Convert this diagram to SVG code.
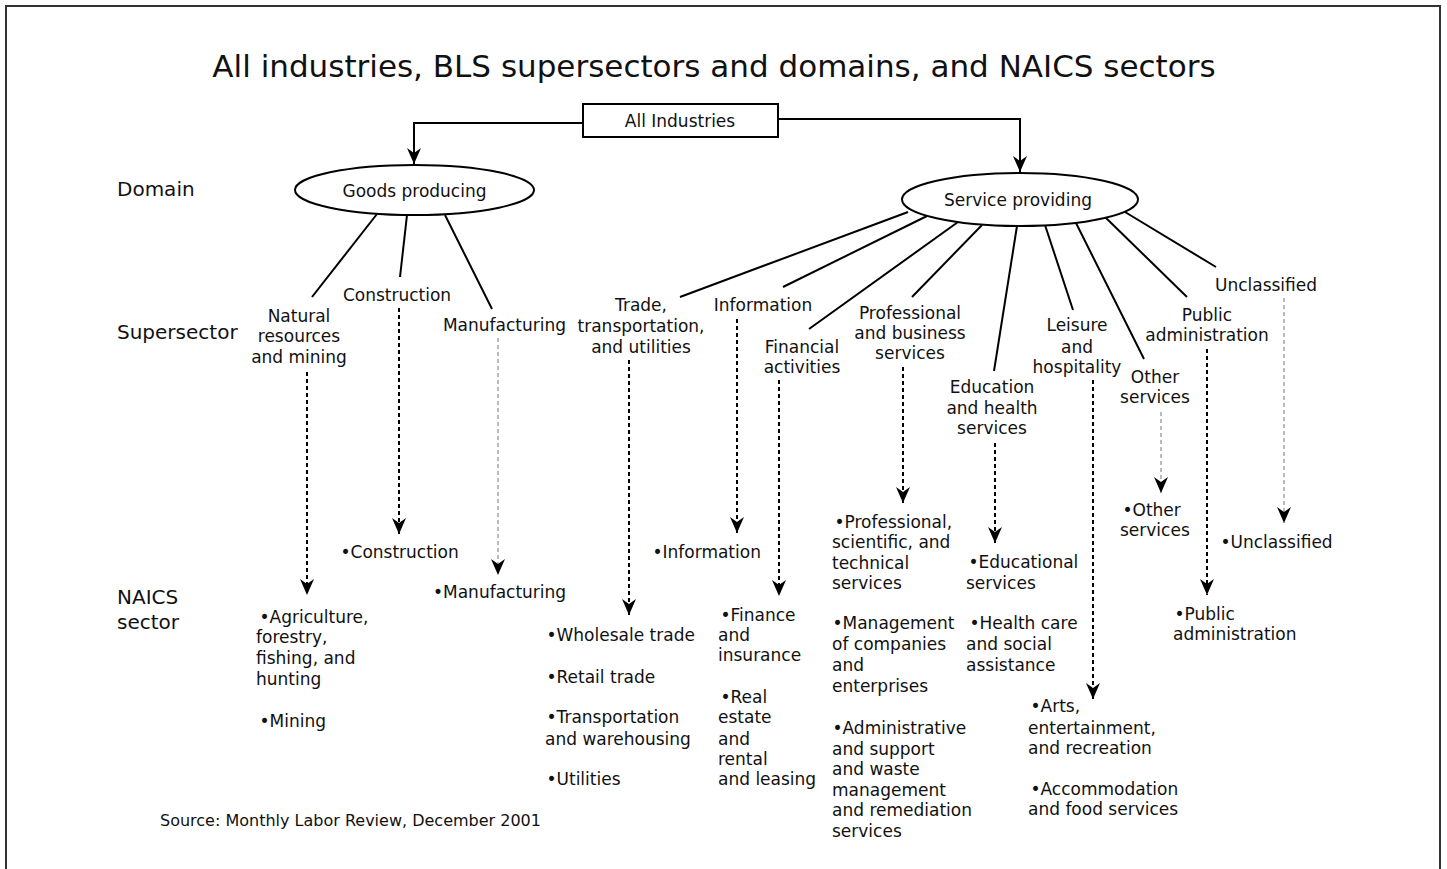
<svg xmlns="http://www.w3.org/2000/svg" width="1447" height="869" viewBox="0 0 1447 869">
<defs>
<marker id="ah" viewBox="0 -8 16 16" refX="16" refY="0" markerWidth="16" markerHeight="16" markerUnits="userSpaceOnUse" orient="auto">
<path d="M0,-7 L16,0 L0,7 L5,0 Z" fill="#000"/>
</marker>
<style>
text{font-family:"DejaVu Sans",Verdana,sans-serif;font-size:17px;fill:#111}
.title{font-size:31px;text-anchor:middle}
.row{font-size:20px}
.c{text-anchor:middle}
.src{font-size:16px}
.solid{stroke:#000;stroke-width:2;fill:none}
.link{stroke:#000;stroke-width:2;fill:none}
.dash{stroke:#000;stroke-width:2;stroke-dasharray:4,3;fill:none}
.light{stroke:#777;stroke-width:1;stroke-dasharray:4,3;fill:none}
.shape{fill:#fff;stroke:#000;stroke-width:2}
</style>
</defs>
<rect width="1447" height="869" fill="#fff"/>
<path d="M6,869 V6 H1440 V869" fill="none" stroke="#333" stroke-width="2"/>
<text class="title" x="714" y="77">All industries, BLS supersectors and domains, and NAICS sectors</text>

<g id="row-labels">
<text class="row" x="117" y="196">Domain</text>
<text class="row" x="117" y="339">Supersector</text>
<text class="row" x="117" y="604">NAICS</text>
<text class="row" x="117" y="629">sector</text>
</g>

<g id="connectors">
<path class="solid" d="M583,123 H414 V164" marker-end="url(#ah)"/>
<path class="solid" d="M778,119 H1020 V172" marker-end="url(#ah)"/>
<line class="link" x1="377" y1="214" x2="312" y2="297"/>
<line class="link" x1="407" y1="215" x2="400" y2="277"/>
<line class="link" x1="445" y1="215" x2="492" y2="309"/>
<line class="link" x1="908" y1="212" x2="680" y2="297"/>
<line class="link" x1="927" y1="216" x2="783" y2="287"/>
<line class="link" x1="958" y1="222" x2="809" y2="329"/>
<line class="link" x1="982" y1="225" x2="912" y2="297"/>
<line class="link" x1="1017" y1="226" x2="994" y2="371"/>
<line class="link" x1="1045" y1="225" x2="1073" y2="310"/>
<line class="link" x1="1076" y1="223" x2="1144" y2="359"/>
<line class="link" x1="1105" y1="217" x2="1187" y2="297"/>
<line class="link" x1="1125" y1="212" x2="1216" y2="267"/>
<line class="dash" x1="307" y1="372" x2="307" y2="595" marker-end="url(#ah)"/>
<line class="dash" x1="399" y1="308" x2="399" y2="534" marker-end="url(#ah)"/>
<line class="light" x1="498" y1="338" x2="498" y2="575" marker-end="url(#ah)"/>
<line class="dash" x1="629" y1="360" x2="629" y2="615" marker-end="url(#ah)"/>
<line class="dash" x1="737" y1="319" x2="737" y2="533" marker-end="url(#ah)"/>
<line class="dash" x1="779" y1="380" x2="779" y2="596" marker-end="url(#ah)"/>
<line class="dash" x1="903" y1="367" x2="903" y2="503" marker-end="url(#ah)"/>
<line class="dash" x1="995" y1="443" x2="995" y2="543" marker-end="url(#ah)"/>
<line class="dash" x1="1093" y1="380" x2="1093" y2="699" marker-end="url(#ah)"/>
<line class="light" x1="1161" y1="412" x2="1161" y2="493" marker-end="url(#ah)"/>
<line class="dash" x1="1207" y1="349" x2="1207" y2="595" marker-end="url(#ah)"/>
<line class="light" x1="1284" y1="298" x2="1284" y2="523" marker-end="url(#ah)"/>
</g>

<g id="all-industries">
<rect class="shape" x="583" y="104" width="195" height="33"/>
<text class="c" x="680" y="127">All Industries</text>
</g>
<g id="goods-producing">
<ellipse class="shape" cx="414.5" cy="190" rx="119.5" ry="25"/>
<text class="c" x="414.5" y="197">Goods producing</text>
</g>
<g id="service-providing">
<ellipse class="shape" cx="1020" cy="199.5" rx="118" ry="26.5"/>
<text class="c" x="1018" y="206">Service providing</text>
</g>

<g id="ss-natural" class="c"><text class="c" x="299" y="322">Natural</text><text class="c" x="299" y="342">resources</text><text class="c" x="299" y="363">and mining</text></g>
<g id="ss-construction"><text class="c" x="397" y="301">Construction</text></g>
<g id="ss-manufacturing"><text class="c" x="504.5" y="331">Manufacturing</text></g>
<g id="ss-trade"><text class="c" x="641" y="311">Trade,</text><text class="c" x="641" y="332">transportation,</text><text class="c" x="641" y="353">and utilities</text></g>
<g id="ss-information"><text class="c" x="763" y="311">Information</text></g>
<g id="ss-financial"><text class="c" x="802" y="353">Financial</text><text class="c" x="802" y="373">activities</text></g>
<g id="ss-professional"><text class="c" x="910" y="319">Professional</text><text class="c" x="910" y="339">and business</text><text class="c" x="910" y="359">services</text></g>
<g id="ss-education"><text class="c" x="992" y="393">Education</text><text class="c" x="992" y="414">and health</text><text class="c" x="992" y="434">services</text></g>
<g id="ss-leisure"><text class="c" x="1077" y="331">Leisure</text><text class="c" x="1077" y="353">and</text><text class="c" x="1077" y="373">hospitality</text></g>
<g id="ss-other"><text class="c" x="1155" y="383">Other</text><text class="c" x="1155" y="403">services</text></g>
<g id="ss-public"><text class="c" x="1207" y="321">Public</text><text class="c" x="1207" y="341">administration</text></g>
<g id="ss-unclassified"><text class="c" x="1266" y="291">Unclassified</text></g>

<g id="naics-natural">
<text x="259.5" y="623">•Agriculture,</text>
<text x="256" y="643">forestry,</text>
<text x="256" y="664">fishing, and</text>
<text x="256" y="685">hunting</text>
<text x="259.5" y="727">•Mining</text>
</g>
<g id="naics-construction"><text x="340.5" y="558">•Construction</text></g>
<g id="naics-manufacturing"><text x="433" y="598">•Manufacturing</text></g>
<g id="naics-trade">
<text x="546.5" y="641">•Wholesale trade</text>
<text x="546.5" y="683">•Retail trade</text>
<text x="546.5" y="723">•Transportation</text>
<text x="545" y="745">and warehousing</text>
<text x="546.5" y="785">•Utilities</text>
</g>
<g id="naics-information"><text x="652.5" y="558">•Information</text></g>
<g id="naics-financial">
<text x="720.5" y="621">•Finance</text>
<text x="718" y="641">and</text>
<text x="718" y="661">insurance</text>
<text x="720.5" y="703">•Real</text>
<text x="718" y="723">estate</text>
<text x="718" y="745">and</text>
<text x="718" y="765">rental</text>
<text x="718" y="785">and leasing</text>
</g>
<g id="naics-professional">
<text x="834.5" y="528">•Professional,</text>
<text x="832" y="548">scientific, and</text>
<text x="832" y="569">technical</text>
<text x="832" y="589">services</text>
<text x="832.5" y="629">•Management</text>
<text x="832" y="650">of companies</text>
<text x="832" y="671">and</text>
<text x="832" y="692">enterprises</text>
<text x="832.5" y="734">•Administrative</text>
<text x="832" y="755">and support</text>
<text x="832" y="775">and waste</text>
<text x="832" y="796">management</text>
<text x="832" y="816">and remediation</text>
<text x="832" y="837">services</text>
</g>
<g id="naics-education">
<text x="968.5" y="568">•Educational</text>
<text x="966" y="589">services</text>
<text x="969.5" y="629">•Health care</text>
<text x="966" y="650">and social</text>
<text x="966" y="671">assistance</text>
</g>
<g id="naics-leisure">
<text x="1030.5" y="712">•Arts,</text>
<text x="1028" y="734">entertainment,</text>
<text x="1028" y="754">and recreation</text>
<text x="1030.5" y="795">•Accommodation</text>
<text x="1028" y="815">and food services</text>
</g>
<g id="naics-other"><text x="1122.5" y="516">•Other</text><text x="1120" y="536">services</text></g>
<g id="naics-public"><text x="1174.5" y="620">•Public</text><text x="1173" y="640">administration</text></g>
<g id="naics-unclassified"><text x="1220.5" y="548">•Unclassified</text></g>

<text class="src" x="160" y="826">Source: Monthly Labor Review, December 2001</text>
</svg>
